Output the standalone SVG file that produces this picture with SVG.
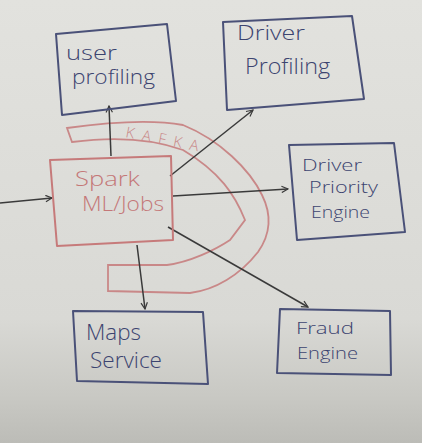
<svg xmlns="http://www.w3.org/2000/svg" width="422" height="443" viewBox="0 0 422 443">
<defs>
<linearGradient id="bg" x1="0" y1="0" x2="0" y2="1">
<stop offset="0" stop-color="#e2e2de"/>
<stop offset="0.72" stop-color="#d9d9d5"/>
<stop offset="0.9" stop-color="#c8c8c3"/>
<stop offset="1" stop-color="#bcbcb7"/>
</linearGradient>
<marker id="ah" viewBox="0 0 10 10" refX="9" refY="5" markerWidth="8" markerHeight="8" orient="auto" markerUnits="userSpaceOnUse">
<path d="M1,1 L9,5 L1,9" fill="none" stroke="#3a3a3a" stroke-width="1.5"/>
</marker>
<style>
.box{fill:none;stroke:#4a5178;stroke-width:2;stroke-linejoin:round}
.sbox{fill:none;stroke:#c67a7a;stroke-width:2;stroke-linejoin:round}
.t{font-family:"Open Sans","DejaVu Sans",sans-serif;font-weight:300;font-size:20px;fill:#3c4470}
.s{font-size:17px}
.st{font-family:"Open Sans","DejaVu Sans",sans-serif;font-weight:300;font-size:21px;fill:#c47878}
.k{fill:none;stroke:#c98888;stroke-width:1.8}
.c{fill:none;stroke:#3a3a3a;stroke-width:1.5;marker-end:url(#ah)}
</style>
</defs>
<rect width="422" height="443" fill="url(#bg)"/>

<g id="kafka">
<path class="k" d="M67,128 C110,122 150,119 183,125 C220,140 250,170 262,195 C272,215 270,235 258,252 C240,275 215,290 190,293 L108,291 L108,265 L167,265 C190,262 215,250 230,240 L245,220 C235,195 220,172 183,150 C150,138 110,137 72,142 Z"/>
<text class="st" transform="translate(125,137) rotate(11)" textLength="74" lengthAdjust="spacing" style="font-size:15px;fill:#c98888">KAFKA</text>
</g>

<g id="connectors">
<line class="c" x1="0" y1="203" x2="52" y2="198"/>
<line class="c" x1="111" y1="156" x2="109" y2="106"/>
<line class="c" x1="170" y1="176" x2="253" y2="110"/>
<line class="c" x1="173" y1="196" x2="288" y2="189"/>
<line class="c" x1="168" y1="227" x2="308" y2="307"/>
<line class="c" x1="137" y1="245" x2="145" y2="309"/>
</g>

<g id="user-profiling">
<path class="box" d="M56,34 L167,24 L176,101 L62,115 Z"/>
<text class="t" x="66" y="60" textLength="51" lengthAdjust="spacingAndGlyphs">user</text>
<text class="t" x="72" y="84" textLength="83" lengthAdjust="spacingAndGlyphs">profiling</text>
</g>

<g id="driver-profiling">
<path class="box" d="M223,22 L352,16 L364,99 L227,110 Z"/>
<text class="t" x="237" y="40" textLength="68" lengthAdjust="spacingAndGlyphs">Driver</text>
<text class="t" x="245" y="74" textLength="85" lengthAdjust="spacingAndGlyphs" style="font-size:22px">Profiling</text>
</g>

<g id="spark">
<path class="sbox" d="M50,160 L171,156 L173,240 L57,246 Z"/>
<text class="st" x="75" y="186" textLength="65" lengthAdjust="spacingAndGlyphs">Spark</text>
<text class="st" x="82" y="211" textLength="82" lengthAdjust="spacingAndGlyphs">ML/Jobs</text>
</g>

<g id="driver-priority-engine">
<path class="box" d="M289,145 L394,143 L405,232 L297,240 Z"/>
<text class="t s" x="302" y="171" textLength="60" lengthAdjust="spacingAndGlyphs">Driver</text>
<text class="t s" x="309" y="193" textLength="69" lengthAdjust="spacingAndGlyphs">Priority</text>
<text class="t s" x="311" y="218" textLength="59" lengthAdjust="spacingAndGlyphs">Engine</text>
</g>

<g id="maps-service">
<path class="box" d="M73,311 L203,312 L208,384 L77,381 Z"/>
<text class="t" x="86" y="340" textLength="55" lengthAdjust="spacingAndGlyphs" style="font-size:22px">Maps</text>
<text class="t" x="90" y="368" textLength="72" lengthAdjust="spacingAndGlyphs" style="font-size:22px">Service</text>
</g>

<g id="fraud-engine">
<path class="box" d="M280,309 L390,311 L391,375 L277,373 Z"/>
<text class="t s" x="296" y="334" textLength="58" lengthAdjust="spacingAndGlyphs">Fraud</text>
<text class="t s" x="297" y="359" textLength="61" lengthAdjust="spacingAndGlyphs">Engine</text>
</g>
</svg>
